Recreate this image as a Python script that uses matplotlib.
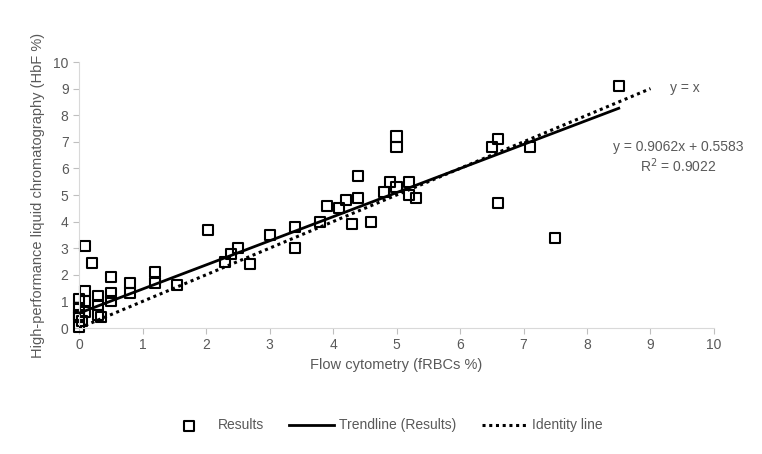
import numpy as np
import matplotlib.pyplot as plt

# flow cytometry (fRBCs %) vs HPLC (HbF %)
flow = [0, 0, 0, 0, 0, 0.05, 0.1, 0.1, 0.1, 0.1, 0.2, 0.3, 0.3, 0.3, 0.35,
        0.5, 0.5, 0.5, 0.8, 0.8, 1.2, 1.2, 1.55, 2.03, 2.3, 2.4, 2.5, 2.7,
        3.0, 3.4, 3.4, 3.8, 3.9, 4.1, 4.2, 4.3, 4.4, 4.4, 4.6, 4.8, 4.9,
        5.0, 5.0, 5.0, 5.2, 5.2, 5.3, 6.5, 6.6, 6.6, 7.1, 7.5, 8.5]
hplc = [0.03, 0.4, 0.75, 1.1, 0.5, 0.25, 3.1, 1.4, 1.0, 0.6, 2.45, 1.2, 0.85, 0.5, 0.4,
        1.9, 1.3, 1.0, 1.7, 1.3, 2.1, 1.7, 1.6, 3.7, 2.5, 2.8, 3.0, 2.4,
        3.5, 3.8, 3.0, 4.0, 4.6, 4.5, 4.8, 3.9, 5.7, 4.9, 4.0, 5.1, 5.5,
        5.3, 7.2, 6.8, 5.5, 5.0, 4.9, 6.8, 7.1, 4.7, 6.8, 3.4, 9.1]

slope, intercept, r2 = 0.9062, 0.5583, 0.9022
trend_x = np.array([0, 8.5])
ident_x = np.array([0, 9])

grey = '#595959'
plt.rcParams['font.family'] = 'Liberation Sans'

fig = plt.figure(figsize=(7.62, 4.54), dpi=100)
ax = fig.add_axes([0.1037, 0.2775, 0.8333, 0.5859])

ax.scatter(flow, hplc, marker='s', s=52, facecolors='none', edgecolors='black',
           linewidths=1.5, label='Results', zorder=2, clip_on=False)
ax.plot(trend_x, slope * trend_x + intercept, color='black', lw=2,
        label='Trendline (Results)', zorder=3)
ax.plot(ident_x, ident_x, color='black', lw=2.2, ls=(0, (1, 1.2)),
        label='Identity line', zorder=3)

ax.text(9.3, 9.02, 'y = x', color=grey, fontsize=10, va='center', ha='left')
ax.text(9.43, 6.8, 'y = 0.9062x + 0.5583', color=grey, fontsize=10, va='center', ha='center')
ax.text(9.43, 6.09, 'R$^2$ = 0.9022', color=grey, fontsize=10, va='center', ha='center')

ax.set_xlim(0, 10)
ax.set_ylim(0, 10)
ax.set_xticks(range(11))
ax.set_yticks(range(11))
ax.set_xlabel('Flow cytometry (fRBCs %)', color=grey, fontsize=10.5, labelpad=4)
ax.set_ylabel('High-performance liquid chromatography (HbF %)', color=grey, fontsize=10.5, labelpad=6)
ax.tick_params(colors='#bfbfbf', labelcolor=grey, labelsize=10, length=4)
for s in ['top', 'right']:
    ax.spines[s].set_visible(False)
for s in ['left', 'bottom']:
    ax.spines[s].set_color('#d9d9d9')

fig.legend(loc='center', bbox_to_anchor=(0.505, 0.063), ncol=3, frameon=False,
           fontsize=10, labelcolor=grey, handlelength=3.24, handletextpad=0.4,
           columnspacing=1.8)

fig.savefig('out.png', dpi=100)
